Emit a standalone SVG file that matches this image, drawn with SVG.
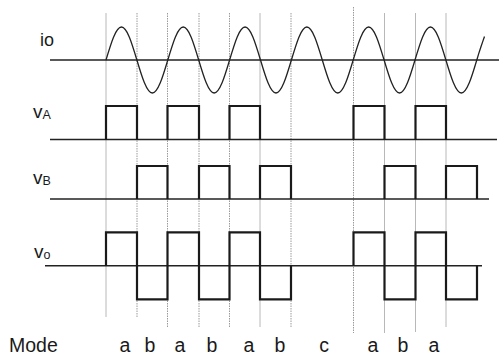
<svg xmlns="http://www.w3.org/2000/svg" width="499" height="355" viewBox="0 0 499 355">
<style>
.grid{stroke:#b8b8b8;stroke-width:1;fill:none}
.dot{stroke:#9a9a9a;stroke-width:1;stroke-dasharray:1.5,1;fill:none}
.axis{stroke:#222;stroke-width:1.5;fill:none}
.wave{stroke:#1a1a1a;stroke-width:2.2;fill:none;stroke-linejoin:miter}
.sine{stroke:#222;stroke-width:1.3;fill:none}
text{font-family:"Liberation Sans",Arial,sans-serif;fill:#1a1a1a}
.mode{font-size:19.5px;text-anchor:middle}
</style>
<rect width="499" height="355" fill="#fff"/>
<g id="gridlines">
<line class="grid" x1="106" y1="13" x2="106" y2="317"/>
<line class="dot" x1="137" y1="13" x2="137" y2="317"/>
<line class="dot" x1="167.5" y1="13" x2="167.5" y2="327"/>
<line class="dot" x1="199" y1="13" x2="199" y2="327"/>
<line class="dot" x1="229.5" y1="13" x2="229.5" y2="327"/>
<line class="grid" x1="260" y1="13" x2="260" y2="327"/>
<line class="dot" x1="291" y1="13" x2="291" y2="327"/>
<line class="dot" x1="353.5" y1="7" x2="353.5" y2="333"/>
<line class="grid" x1="384.5" y1="13" x2="384.5" y2="333"/>
<line class="grid" x1="415.5" y1="13" x2="415.5" y2="332"/>
<line class="grid" x1="446" y1="13" x2="446" y2="327"/>
</g>
<g id="io">
<text x="40" y="45.5" font-size="18">io</text>
<line class="axis" x1="50" y1="60" x2="499" y2="60"/>
<path class="sine" d="M106,60 c5.039,-16.906 9.859,-33 15.45,-33 c5.591,0 10.411,16.094 15.45,33 c5.039,16.906 9.859,33 15.45,33 c5.591,0 10.411,-16.094 15.45,-33
c5.039,-16.906 9.859,-33 15.45,-33 c5.591,0 10.411,16.094 15.45,33 c5.039,16.906 9.859,33 15.45,33 c5.591,0 10.411,-16.094 15.45,-33
c5.039,-16.906 9.859,-33 15.45,-33 c5.591,0 10.411,16.094 15.45,33 c5.039,16.906 9.859,33 15.45,33 c5.591,0 10.411,-16.094 15.45,-33
c5.039,-16.906 9.859,-33 15.45,-33 c5.591,0 10.411,16.094 15.45,33 c5.039,16.906 9.859,33 15.45,33 c5.591,0 10.411,-16.094 15.45,-33
c5.039,-16.906 9.859,-33 15.45,-33 c5.591,0 10.411,16.094 15.45,33 c5.039,16.906 9.859,33 15.45,33 c5.591,0 10.411,-16.094 15.45,-33
c5.039,-16.906 9.859,-33 15.45,-33 c5.591,0 10.411,16.094 15.45,33 c5.039,16.906 9.859,33 15.45,33 c5.591,0 10.411,-16.094 15.45,-33
L478.8,53.4 L480.8,47.2 L482.8,41.4 L484.5,36.5"/>
</g>
<g id="vA">
<text x="33" y="118" font-size="19">v<tspan font-size="12.5" dy="1">A</tspan></text>
<line class="axis" x1="50" y1="139.5" x2="497" y2="139.5"/>
<path class="wave" d="M106,139.5 V106 H137 V139.5 M167.5,139.5 V106 H199 V139.5 M229.5,139.5 V106 H260 V139.5 M353.5,139.5 V106 H384.5 V139.5 M415.5,139.5 V106 H446 V139.5"/>
</g>
<g id="vB">
<text x="33" y="184" font-size="19">v<tspan font-size="12.5" dy="1">B</tspan></text>
<line class="axis" x1="50" y1="199" x2="489" y2="199"/>
<path class="wave" d="M137,199 V166 H167.5 V199 M199,199 V166 H229.5 V199 M260,199 V166 H291 V199 M384.5,199 V166 H415.5 V199 M446,199 V166 H477 V199"/>
</g>
<g id="vo">
<text x="34" y="258" font-size="19">v<tspan font-size="12.5" dy="1">o</tspan></text>
<line class="axis" x1="45" y1="265.7" x2="482" y2="265.7"/>
<path class="wave" d="M106,265.7 V232.3 H137 V299.3 H167.5 V232.3 H199 V299.3 H229.5 V232.3 H260 V299.3 H291 V265.7 M353.5,265.7 V232.3 H384.5 V299.3 H415.5 V232.3 H446 V299.3 H477 V265.7"/>
</g>
<g id="mode">
<text x="9" y="351.5" font-size="19.5">Mode</text>
<text class="mode" x="125" y="351.5">a</text>
<text class="mode" x="150" y="351.5">b</text>
<text class="mode" x="180" y="351.5">a</text>
<text class="mode" x="212" y="351.5">b</text>
<text class="mode" x="249" y="351.5">a</text>
<text class="mode" x="280" y="351.5">b</text>
<text class="mode" x="324" y="351.5">c</text>
<text class="mode" x="373" y="351.5">a</text>
<text class="mode" x="403" y="351.5">b</text>
<text class="mode" x="434" y="351.5">a</text>
</g>
</svg>
